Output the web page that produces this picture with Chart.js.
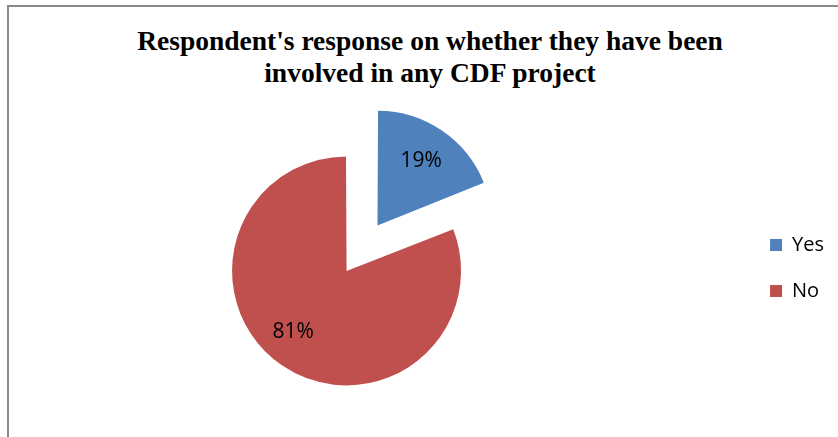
<!DOCTYPE html>
<html>
<head>
<meta charset="utf-8">
<script src="https://cdn.jsdelivr.net/npm/chart.js@4/dist/chart.umd.min.js"></script>
<style>
    html, body { margin: 0; padding: 0; background: #fff; overflow: hidden; width: 838px; height: 437px; }
    .frame { position: absolute; left: 7px; top: 5px; width: 900px; height: 500px; border-left: 2px solid #8a8a8a; border-top: 2px solid #8a8a8a; }
    .title { position: absolute; left: 8px; top: 25px; width: 844px; text-align: center; font: bold 27.5px/32px "Liberation Serif", "Times New Roman", serif; color: #000; }
    .wrap { position: absolute; left: -47px; top: 54px; width: 885px; height: 428px; }
</style>
</head>
<body>
<div class="frame"></div>
<div class="title">Respondent's response on whether they have been<br>involved in any CDF project</div>
<div class="wrap"><canvas id="pieChart"></canvas></div>
<script>
const categories = ["Yes", "No"];
const responses = [19, 81];
const sliceColors = ["#4F81BD", "#C0504D"];

// how far each slice is pulled out (chart.js moves an arc by offset / 4)
const sliceOffsets = [206, 14];
// where the percentage sits: share of radius, extra turn in degrees
const labelSpots = [[0.68, 0], [0.71, 6.8]];

const percentLabels = {
    id: "percentLabels",
    afterDatasetsDraw(chart) {
        const ctx = chart.ctx;
        const meta = chart.getDatasetMeta(0);
        const values = chart.data.datasets[0].data;
        const total = values.reduce((a, b) => a + b, 0);
        ctx.save();
        ctx.font = '21px "Open Sans", sans-serif';
        ctx.fillStyle = "#000";
        ctx.textAlign = "center";
        ctx.textBaseline = "middle";
        meta.data.forEach(function (arc, i) {
            const mid = (arc.startAngle + arc.endAngle) / 2;
            const shift = (arc.options.offset || 0) / 4;
            const fix = 1 - Math.sin(Math.min(Math.PI, arc.circumference));
            const r = arc.outerRadius + shift * fix;
            const cx = arc.x + Math.cos(mid) * shift;
            const cy = arc.y + Math.sin(mid) * shift;
            const a = mid + labelSpots[i][1] * Math.PI / 180;
            const d = labelSpots[i][0] * r;
            const text = Math.round(values[i] / total * 100) + "%";
            ctx.fillText(text, cx + Math.cos(a) * d, cy + Math.sin(a) * d);
        });
        ctx.restore();
    }
};

new Chart(document.getElementById("pieChart"), {
    type: "pie",
    data: {
        labels: categories,
        datasets: [
            {
                data: responses,
                backgroundColor: sliceColors,
                borderWidth: 0,
                hoverBorderWidth: 0,
                hoverOffset: 0,
                offset: sliceOffsets
            }
        ]
    },
    options: {
        responsive: true,
        maintainAspectRatio: false,
        animation: false,
        events: [],
        layout: {
            padding: { left: 0, right: 4, top: 0, bottom: 0 }
        },
        plugins: {
            title: { display: false },
            tooltip: { enabled: false },
            legend: {
                position: "right",
                labels: {
                    boxWidth: 12,
                    boxHeight: 12,
                    padding: 26,
                    color: "#000",
                    font: { family: "'Open Sans', sans-serif", size: 20 }
                }
            }
        }
    },
    plugins: [percentLabels]
});
</script>
</body>
</html>
